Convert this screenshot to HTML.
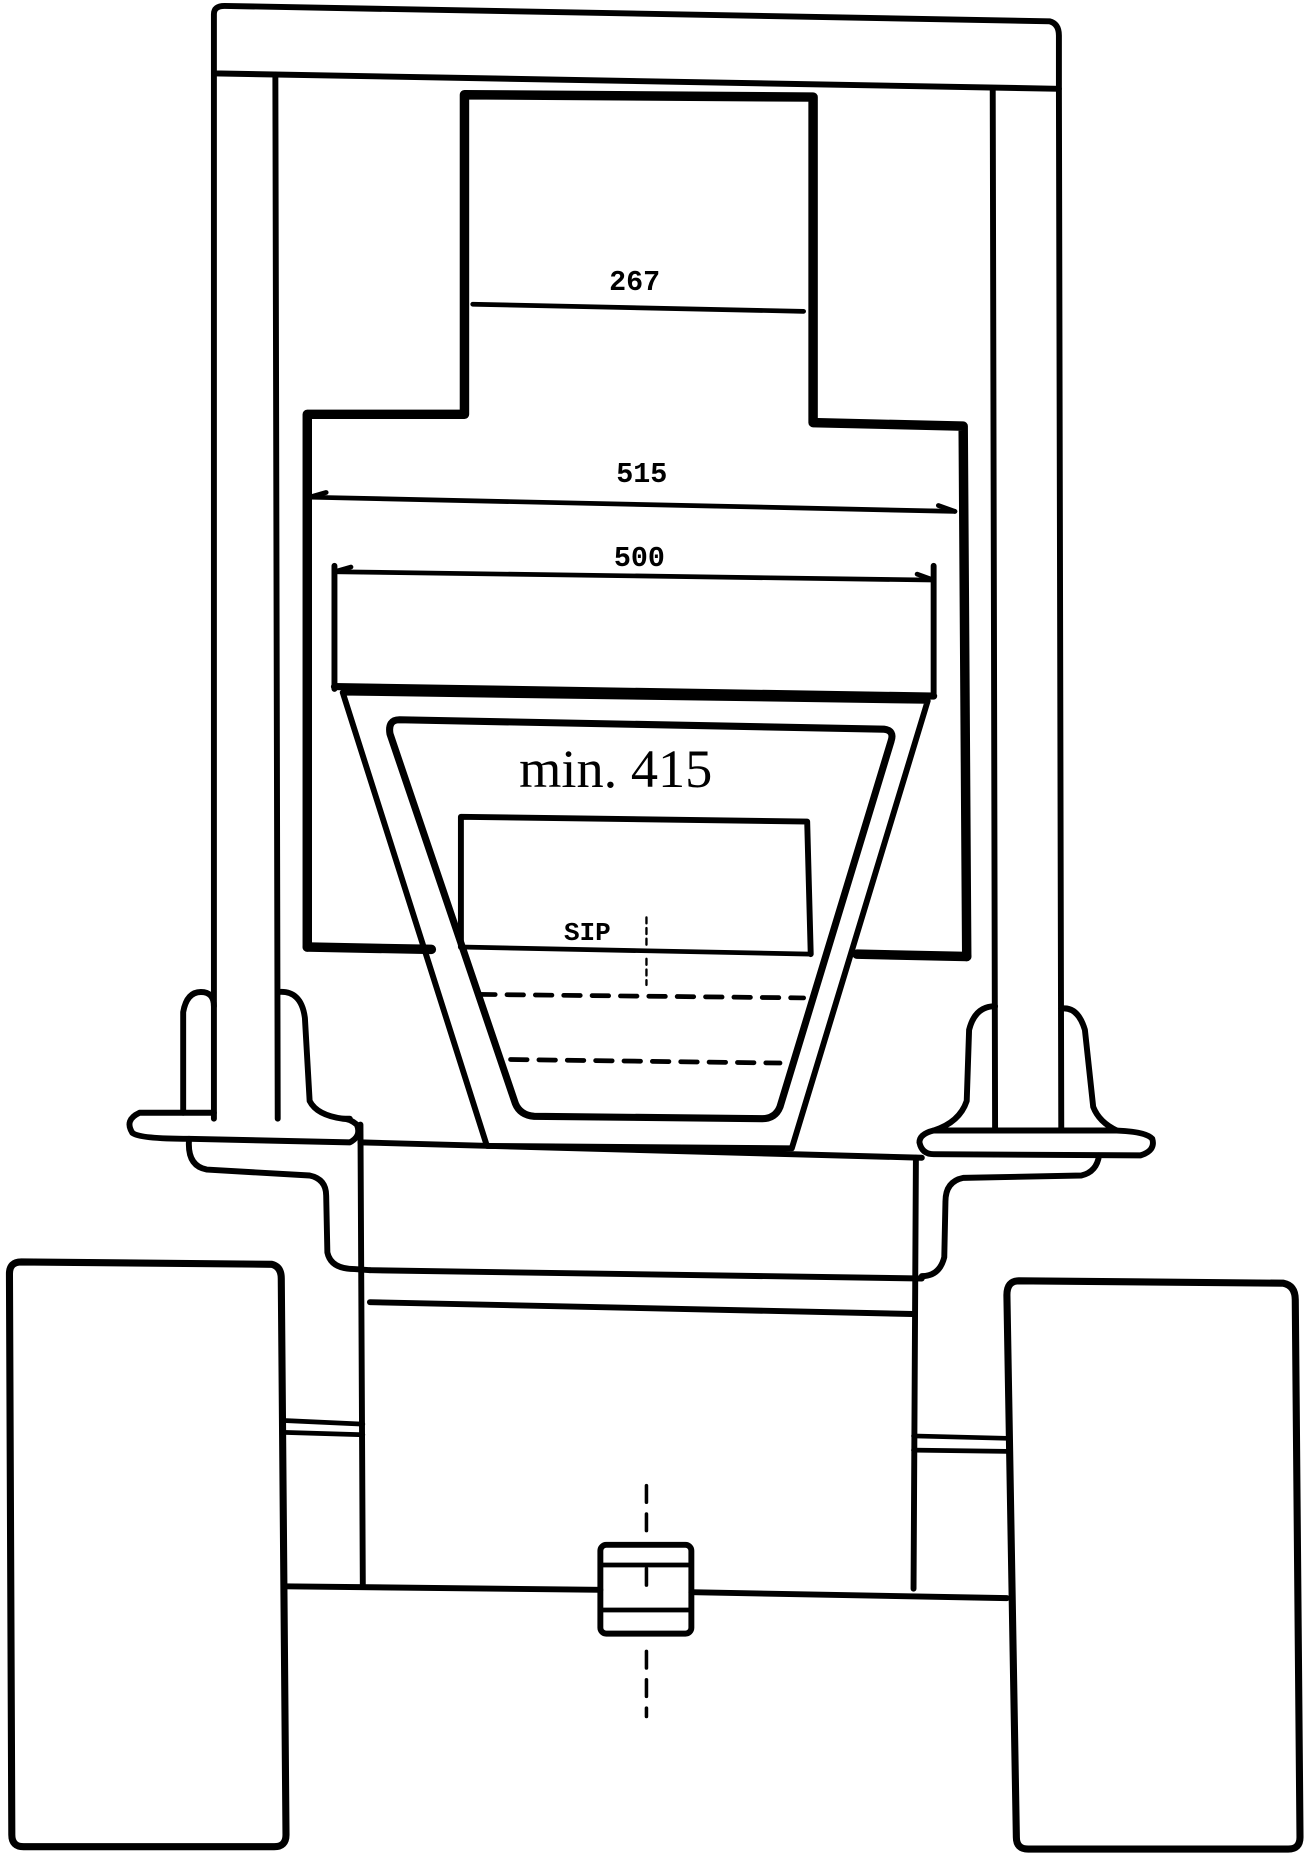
<!DOCTYPE html>
<html><head><style>html,body{margin:0;padding:0;background:#fff}svg{display:block}</style></head>
<body>
<svg width="1313" height="1855" viewBox="0 0 1111 1567" preserveAspectRatio="none" xmlns="http://www.w3.org/2000/svg" fill="none" stroke="#000" stroke-linecap="round" stroke-linejoin="round">
<path d="M181,12 Q181,5 190,5 L888,18 Q896,20 896,30 L896,75 L181,62 Z" stroke-width="5"/>
<path d="M181,62 L181,945 M233,63 L235,945" stroke-width="5"/>
<path d="M840,75 L842,955 M896,75 L898,955" stroke-width="5"/>
<path d="M260,800 L260,350 L393,350 L393,80 L688,82 L688,357 L815,360 L818,808" stroke-width="8"/>
<path d="M260,800 L365,802 M725,806 L818,808" stroke-width="8"/>
<line x1="400" y1="257" x2="680" y2="263" stroke-width="4"/>
<text x="537" y="245" font-family="Liberation Mono, monospace" font-weight="bold" font-size="24" fill="#000" stroke="none" text-anchor="middle">267</text>
<line x1="262" y1="420" x2="808" y2="432" stroke-width="4"/>
<path d="M262,420 l14,-4 M808,432 l-14,-5" stroke-width="4"/>
<text x="543" y="407" font-family="Liberation Mono, monospace" font-weight="bold" font-size="24" fill="#000" stroke="none" text-anchor="middle">515</text>
<line x1="283" y1="483" x2="790" y2="490" stroke-width="4"/>
<path d="M283,483 l14,-4 M790,490 l-14,-5" stroke-width="4"/>
<text x="541" y="478" font-family="Liberation Mono, monospace" font-weight="bold" font-size="24" fill="#000" stroke="none" text-anchor="middle">500</text>
<path d="M283,478 L283,582 M790,478 L790,588" stroke-width="5"/>
<line x1="283" y1="580" x2="790" y2="588" stroke-width="6"/>
<path d="M290,585 L785,592 L670,970 L412,968 Z" stroke-width="5"/>
<path d="M338,608 L748,616 Q757,617 754,626 L660,935 Q656,945 645,945 L452,943 Q440,942 436,932 L330,620 Q328,608 338,608 Z" stroke-width="6"/>
<text x="521" y="665" font-family="Liberation Serif, serif" font-size="46" fill="#000" stroke="none" text-anchor="middle">min. 415</text>
<path d="M390,800 L390,690 L683,694 L686,806" stroke-width="5"/>
<line x1="390" y1="800" x2="686" y2="806" stroke-width="4"/>
<text x="497" y="794" font-family="Liberation Mono, monospace" font-weight="bold" font-size="22" fill="#000" stroke="none" text-anchor="middle">SIP</text>
<path d="M547,775 L547,798 M547,810 L547,832" stroke-width="2" stroke-dasharray="5,4"/>
<line x1="405" y1="840" x2="680" y2="843" stroke-width="4" stroke-dasharray="14,10"/>
<line x1="432" y1="895" x2="660" y2="898" stroke-width="4" stroke-dasharray="14,10"/>
<line x1="305" y1="965" x2="780" y2="978" stroke-width="5"/>
<path d="M155,940 L155,855 Q158,838 170,838 Q181,838 181,850 M235,838 Q255,836 258,860 L262,930 Q268,942 290,945 L296,945" stroke-width="5"/>
<path d="M155,940 L118,940 Q105,946 112,957 Q118,962 160,962 L296,965 Q306,960 302,950 Q296,945 290,945 M155,940 L181,940" stroke-width="5"/>
<path d="M160,962 Q158,985 175,988 L262,993 Q276,996 276,1010 L277,1058 Q280,1072 300,1072 L313,1073" stroke-width="5"/>
<path d="M842,850 Q825,850 820,870 L818,930 Q812,948 790,955 M898,852 Q912,850 918,870 L925,935 Q930,948 945,955" stroke-width="5"/>
<path d="M790,955 Q778,958 778,965 Q780,975 790,975 L965,976 Q978,972 975,962 Q970,956 945,955 L790,955" stroke-width="5"/>
<path d="M930,976 Q928,990 915,993 L815,995 Q800,998 800,1015 L799,1062 Q795,1078 780,1078" stroke-width="5"/>
<path d="M305,950 L307,1340 M775,978 L773,1342" stroke-width="5"/>
<path d="M313,1073 L780,1080" stroke-width="5"/>
<path d="M313,1100 L772,1110" stroke-width="5"/>
<path d="M18,1066 L230,1068 Q238,1070 238,1080 L242,1550 Q242,1560 232,1560 L20,1560 Q10,1560 10,1550 L8,1076 Q8,1066 18,1066 Z" stroke-width="6"/>
<path d="M862,1082 L1086,1084 Q1096,1086 1096,1098 L1100,1552 Q1100,1562 1090,1562 L870,1562 Q860,1562 860,1552 L852,1094 Q852,1082 862,1082 Z" stroke-width="6"/>
<path d="M240,1200 L307,1203 M240,1210 L307,1212" stroke-width="4"/>
<path d="M773,1213 L852,1215 M773,1225 L852,1226" stroke-width="4"/>
<path d="M240,1340 L508,1343 M585,1345 L852,1350" stroke-width="5"/>
<rect x="508" y="1305" width="77" height="75" rx="5" stroke-width="5"/>
<path d="M508,1322 L585,1322 M508,1360 L585,1360" stroke-width="4"/>
<path d="M547,1255 L547,1300 M547,1325 L547,1345 M547,1395 L547,1450" stroke-width="3" stroke-dasharray="14,10"/>
</svg>
</body></html>
